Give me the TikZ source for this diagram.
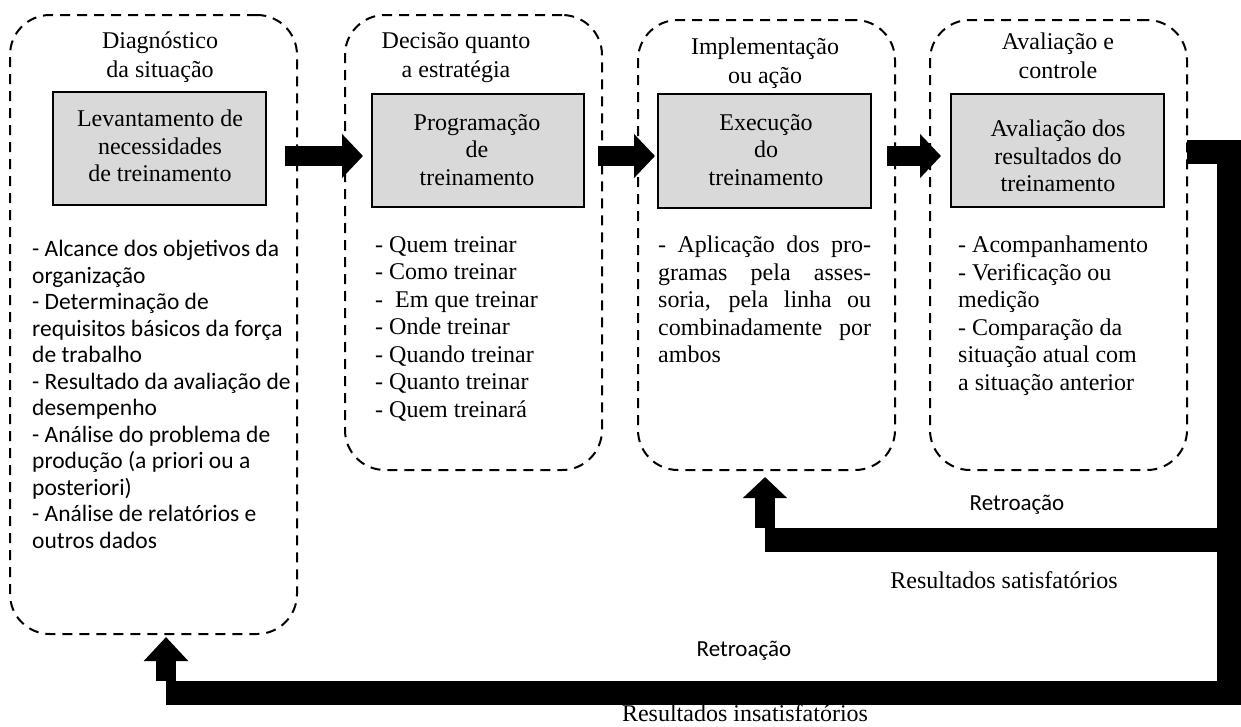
\documentclass[tikz,border=0pt]{standalone}
\usepackage{fontspec}
\setmainfont{Liberation Serif}
\newfontfamily\calib{Carlito}
\usetikzlibrary{arrows.meta,fit}
\begin{document}
\begin{tikzpicture}[x=1pt,y=-1pt,
  phase/.style={draw, line width=2pt, dash pattern=on 10pt off 7pt, rounded corners=40pt, inner sep=0pt},
  gbox/.style={draw, line width=1.5pt, fill={rgb,255:red,217;green,217;blue,217}, inner sep=0pt},
  head/.style={inner sep=0pt, align=center, font=\fontsize{24}{29}\selectfont},
  gtext/.style={inner sep=0pt, align=center, font=\fontsize{24}{27.5}\selectfont},
  body/.style={inner sep=0pt, anchor=north west, align=left, font=\fontsize{24}{27.5}\selectfont},
  sbody/.style={inner sep=0pt, anchor=north west, align=left, font=\calib\fontsize{23.5}{26.5}\selectfont},
  blockarrow/.style={line width=20pt, -{Triangle[width=43pt,length=21pt]}},
  fbbar/.style={line width=24pt, miter limit=10},
  lbl/.style={inner sep=0pt, font=\calib\fontsize{23}{27}\selectfont},
  rlbl/.style={inner sep=0pt, font=\fontsize{24}{28}\selectfont}]
\useasboundingbox (0,0) rectangle (1241,726);
% phase boxes
\node[phase, fit={(10,15) (297,634)}] (b1) {};
\node[phase, fit={(345,15) (602,470)}] (b2) {};
\node[phase, fit={(638,20) (895,470)}] (b3) {};
\node[phase, fit={(930,20) (1187,470)}] (b4) {};
% headings
\node[head] (h1) at (160,57) {Diagnóstico\\da situação};
\node[head] (h2) at (456,58) {Decisão quanto\\a estratégia};
\node[head] (h3) at (765,63) {Implementação\\ou ação};
\node[head] (h4) at (1058,56) {Avaliação e\\controle};
% gray boxes
\node[gbox, fit={(53,92) (266,205)}] (g1) {};
\node[gbox, fit={(372,94) (584,207)}] (g2) {};
\node[gbox, fit={(658,94) (871,208)}] (g3) {};
\node[gbox, fit={(951,94) (1164,207)}] (g4) {};
\node[gtext] (g1t) at (160,146) {Levantamento de\\necessidades\\de treinamento};
\node[gtext] (g2t) at (477,150) {Programação\\de\\treinamento};
\node[gtext] (g3t) at (766,150) {Execução\\do\\treinamento};
\node[gtext] (g4t) at (1058,156) {Avaliação dos\\resultados do\\treinamento};
% body texts
\node[sbody] (t1) at (32,240) {- Alcance dos objetivos da\\organização\\- Determinação de\\requisitos básicos da força\\de trabalho\\- Resultado da avaliação de\\desempenho\\- Análise do problema de\\produção (a priori ou a\\posteriori)\\- Análise de relatórios e\\outros dados};
\node[body] (t2) at (375,236) {- Quem treinar\\- Como treinar\\-\ \ Em que treinar\\- Onde treinar\\- Quando treinar\\- Quanto treinar\\- Quem treinará};
\node[body] (t3) at (658,236) {\makebox[213pt][s]{- Aplicação dos pro-}\\\makebox[213pt][s]{gramas pela asses-}\\\makebox[213pt][s]{soria, pela linha ou}\\\makebox[213pt][s]{combinadamente por}\\ambos};
\node[body] (t4) at (958,236) {- Acompanhamento\\- Verificação ou\\medição\\- Comparação da\\situação atual com\\a situação anterior};
% forward arrows
\coordinate (a1s) at (285,156); \coordinate (a1e) at (363,156);
\coordinate (a2s) at (598,156); \coordinate (a2e) at (655,156);
\coordinate (a3s) at (887,156); \coordinate (a3e) at (941,156);
\draw[blockarrow] (a1s) -- (a1e);
\draw[blockarrow] (a2s) -- (a2e);
\draw[blockarrow] (a3s) -- (a3e);
% feedback
\coordinate (fs) at (1187,152);
\coordinate (fc1) at (1229,152);
\coordinate (fc2) at (1229,693);
\coordinate (fl) at (166,693);
\coordinate (fu) at (1229,540);
\coordinate (fm) at (765,540);
\draw[fbbar] (fs) -- (fc1) -- (fc2) -- (fl);
\draw[fbbar] (fu) -- (fm);
\draw[line width=20pt, -{Triangle[width=43pt,length=21pt]}] ([yshift=12pt]fm) -- (765,477);
\draw[line width=20pt, -{Triangle[width=43pt,length=24pt]}] ([yshift=12pt]fl) -- (166,637);
% labels
\node[lbl] (r1) at (1017,505) {Retroação};
\node[lbl] (r2) at (744,651) {Retroação};
\node[rlbl] (s1) at (1004,580) {Resultados satisfatórios};
\node[rlbl] (s2) at (745,713) {Resultados insatisfatórios};
\end{tikzpicture}
\end{document}
